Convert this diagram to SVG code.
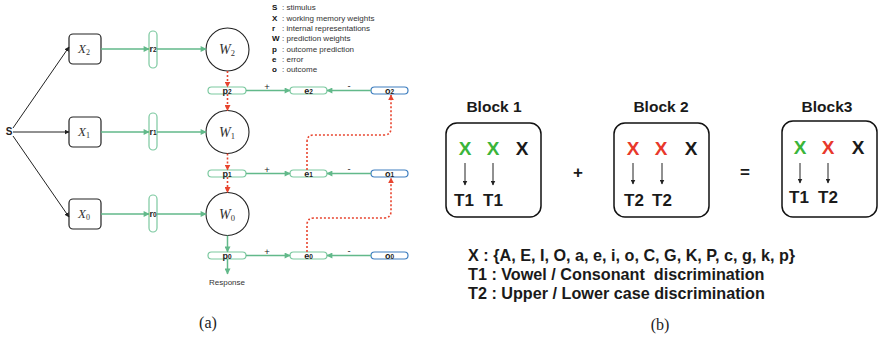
<svg xmlns="http://www.w3.org/2000/svg" width="882" height="339" viewBox="0 0 882 339">
<style>
.bx{fill:#fff;stroke:#222;stroke-width:1.2}
.pill{fill:#fff;stroke:#7cc9a0;stroke-width:1.2}
.opill{fill:#fff;stroke:#3f7fc0;stroke-width:1.2}
.circ{fill:#fff;stroke:#222;stroke-width:1.1}
.g{stroke:#62b98a;stroke-width:1.5;fill:none}
.r{stroke:#e8452f;stroke-width:1.6;fill:none;stroke-dasharray:2 2}
.k{stroke:#222;stroke-width:1;fill:none}
.sans{font-family:"Liberation Sans",Arial,sans-serif}
.ser{font-family:"Liberation Serif","Times New Roman",serif}
.pl{font-family:"Liberation Sans",Arial,sans-serif;font-weight:bold;font-size:9px;fill:#222;text-anchor:middle}
.math{font-family:"Liberation Serif","Times New Roman",serif;font-style:italic;fill:#333;text-anchor:middle}
.leg{font-family:"Liberation Sans",Arial,sans-serif;font-size:8px;fill:#333}
.sign{font-family:"Liberation Sans",Arial,sans-serif;font-size:9.5px;fill:#222;text-anchor:middle}
.big{font-family:"Liberation Sans",Arial,sans-serif;font-weight:bold;text-anchor:middle}
.gx{fill:#3ab53a}
.rx{fill:#e8382b}
.kx{fill:#1a1a1a}
</style>
<defs>
<marker id="ag" viewBox="0 0 10 10" refX="9" refY="5" markerWidth="7" markerHeight="6" markerUnits="userSpaceOnUse" orient="auto"><path d="M0,0 L10,5 L0,10 z" fill="#62b98a"/></marker>
<marker id="ar" viewBox="0 0 10 10" refX="9" refY="5" markerWidth="6" markerHeight="6" markerUnits="userSpaceOnUse" orient="auto"><path d="M0,0 L10,5 L0,10 z" fill="#e8452f"/></marker>
<marker id="ak" viewBox="0 0 10 10" refX="9" refY="5" markerWidth="5" markerHeight="5" markerUnits="userSpaceOnUse" orient="auto"><path d="M0,0 L10,5 L0,10 z" fill="#222"/></marker>
</defs>

<!-- (a) panel -->
<g id="S"><text x="9" y="135" class="pl" style="font-size:10px">S</text></g>

<g id="X2"><rect x="69" y="34" width="32" height="30" rx="4" class="bx"/><text x="84" y="53" class="math" font-size="13">X<tspan font-size="8" font-style="normal" dy="2">2</tspan></text></g>
<g id="X1"><rect x="69" y="117" width="32" height="30" rx="4" class="bx"/><text x="84" y="136" class="math" font-size="13">X<tspan font-size="8" font-style="normal" dy="2">1</tspan></text></g>
<g id="X0"><rect x="69" y="199" width="32" height="30" rx="4" class="bx"/><text x="84" y="218" class="math" font-size="13">X<tspan font-size="8" font-style="normal" dy="2">0</tspan></text></g>

<g id="r2"><rect x="149" y="31" width="8" height="37" rx="4" class="pill"/><text x="153" y="52" class="pl">r<tspan font-size="6.5">2</tspan></text></g>
<g id="r1"><rect x="149" y="113" width="8" height="37" rx="4" class="pill"/><text x="153" y="135" class="pl">r<tspan font-size="6.5">1</tspan></text></g>
<g id="r0"><rect x="149" y="195" width="8" height="37" rx="4" class="pill"/><text x="153" y="217" class="pl">r<tspan font-size="6.5">0</tspan></text></g>

<g id="W2"><circle cx="227.5" cy="49.5" r="21.5" class="circ"/><text x="227" y="54" class="math" font-size="14">W<tspan font-size="8.5" font-style="normal" dy="2">2</tspan></text></g>
<g id="W1"><circle cx="227.5" cy="132" r="21.5" class="circ"/><text x="227" y="136.5" class="math" font-size="14">W<tspan font-size="8.5" font-style="normal" dy="2">1</tspan></text></g>
<g id="W0"><circle cx="227.5" cy="214" r="21.5" class="circ"/><text x="227" y="218.5" class="math" font-size="14">W<tspan font-size="8.5" font-style="normal" dy="2">0</tspan></text></g>

<g id="p2"><rect x="208" y="87" width="38" height="7" rx="3.5" class="pill"/><text x="227" y="93.5" class="pl">p<tspan font-size="6.5">2</tspan></text></g>
<g id="p1"><rect x="208" y="170" width="38" height="7" rx="3.5" class="pill"/><text x="227" y="176.5" class="pl">p<tspan font-size="6.5">1</tspan></text></g>
<g id="p0"><rect x="208" y="252" width="38" height="7" rx="3.5" class="pill"/><text x="227" y="258.5" class="pl">p<tspan font-size="6.5">0</tspan></text></g>

<g id="e2"><rect x="290" y="87" width="37" height="7" rx="3.5" class="pill"/><text x="308.5" y="93.5" class="pl">e<tspan font-size="6.5">2</tspan></text></g>
<g id="e1"><rect x="290" y="170" width="37" height="7" rx="3.5" class="pill"/><text x="308.5" y="176.5" class="pl">e<tspan font-size="6.5">1</tspan></text></g>
<g id="e0"><rect x="290" y="252" width="37" height="7" rx="3.5" class="pill"/><text x="308.5" y="258.5" class="pl">e<tspan font-size="6.5">0</tspan></text></g>

<g id="o2"><rect x="371" y="87" width="37" height="7" rx="3.5" class="opill"/><text x="389.5" y="93.5" class="pl">o<tspan font-size="6.5">2</tspan></text></g>
<g id="o1"><rect x="371" y="170" width="37" height="7" rx="3.5" class="opill"/><text x="389.5" y="176.5" class="pl">o<tspan font-size="6.5">1</tspan></text></g>
<g id="o0"><rect x="371" y="252" width="37" height="7" rx="3.5" class="opill"/><text x="389.5" y="258.5" class="pl">o<tspan font-size="6.5">0</tspan></text></g>

<g id="response"><text x="227" y="285" class="leg" text-anchor="middle">Response</text></g>

<g id="legend" class="leg">
<text x="272" y="10"><tspan font-weight="bold" fill="#111">S</tspan><tspan x="282">: stimulus</tspan></text>
<text x="272" y="20.5"><tspan font-weight="bold" fill="#111">X</tspan><tspan x="282">: working memory weights</tspan></text>
<text x="272" y="31"><tspan font-weight="bold" fill="#111">r</tspan><tspan x="282">: internal representations</tspan></text>
<text x="272" y="41"><tspan font-weight="bold" fill="#111">W</tspan><tspan x="282">: prediction weights</tspan></text>
<text x="272" y="52"><tspan font-weight="bold" fill="#111">p</tspan><tspan x="282">: outcome prediction</tspan></text>
<text x="272" y="62"><tspan font-weight="bold" fill="#111">e</tspan><tspan x="282">: error</tspan></text>
<text x="272" y="72"><tspan font-weight="bold" fill="#111">o</tspan><tspan x="282">: outcome</tspan></text>
</g>

<g id="signs">
<text x="267" y="89.5" class="sign">+</text><text x="349" y="88.5" class="sign">-</text>
<text x="267" y="172.5" class="sign">+</text><text x="349" y="171.5" class="sign">-</text>
<text x="267" y="254.5" class="sign">+</text><text x="349" y="253.5" class="sign">-</text>
</g>

<g id="connectors">
<line x1="13" y1="128" x2="69" y2="47" class="k" marker-end="url(#ak)"/>
<line x1="13" y1="132" x2="69" y2="132" class="k" marker-end="url(#ak)"/>
<line x1="13" y1="136" x2="69" y2="217" class="k" marker-end="url(#ak)"/>

<line x1="101" y1="49" x2="149" y2="49" class="g" marker-end="url(#ag)"/>
<line x1="101" y1="132" x2="149" y2="132" class="g" marker-end="url(#ag)"/>
<line x1="101" y1="214" x2="149" y2="214" class="g" marker-end="url(#ag)"/>
<line x1="157" y1="49" x2="206" y2="49" class="g" marker-end="url(#ag)"/>
<line x1="157" y1="132" x2="206" y2="132" class="g" marker-end="url(#ag)"/>
<line x1="157" y1="214" x2="206" y2="214" class="g" marker-end="url(#ag)"/>

<line x1="227.5" y1="71" x2="227.5" y2="87" class="r" marker-end="url(#ar)"/>
<line x1="227.5" y1="94" x2="227.5" y2="110.5" class="r" marker-end="url(#ar)"/>
<line x1="227.5" y1="153.5" x2="227.5" y2="170" class="r" marker-end="url(#ar)"/>
<line x1="227.5" y1="177" x2="227.5" y2="192.5" class="r" marker-end="url(#ar)"/>
<line x1="227.5" y1="235.5" x2="227.5" y2="252" class="g" marker-end="url(#ag)"/>
<line x1="227.5" y1="259" x2="227.5" y2="274" class="g" marker-end="url(#ag)"/>

<line x1="246" y1="90.5" x2="290" y2="90.5" class="g" marker-end="url(#ag)"/>
<line x1="371" y1="90.5" x2="327" y2="90.5" class="g" marker-end="url(#ag)"/>
<line x1="246" y1="173.5" x2="290" y2="173.5" class="g" marker-end="url(#ag)"/>
<line x1="371" y1="173.5" x2="327" y2="173.5" class="g" marker-end="url(#ag)"/>
<line x1="246" y1="255.5" x2="290" y2="255.5" class="g" marker-end="url(#ag)"/>
<line x1="371" y1="255.5" x2="327" y2="255.5" class="g" marker-end="url(#ag)"/>

<path d="M307,170 L307,142 Q307,135 314,135 L384,135 Q391,135 391,128 L391,95" class="r" marker-end="url(#ar)"/>
<path d="M307,252 L307,225 Q307,218 314,218 L384,218 Q391,218 391,211 L391,178" class="r" marker-end="url(#ar)"/>

<line x1="465" y1="163" x2="465" y2="185" class="k" marker-end="url(#ak)"/>
<line x1="493" y1="163" x2="493" y2="185" class="k" marker-end="url(#ak)"/>
<line x1="633" y1="163" x2="633" y2="184" class="k" marker-end="url(#ak)"/>
<line x1="662" y1="163" x2="662" y2="184" class="k" marker-end="url(#ak)"/>
<line x1="800" y1="163" x2="800" y2="183" class="k" marker-end="url(#ak)"/>
<line x1="828" y1="163" x2="828" y2="183" class="k" marker-end="url(#ak)"/>
</g>

<text x="208" y="328" class="ser" font-size="16" text-anchor="middle" fill="#222">(a)</text>

<!-- (b) panel -->
<g id="block1">
<text x="494" y="111.5" class="big kx" font-size="15.5">Block 1</text>
<rect x="446" y="123" width="95" height="94" rx="11" fill="none" stroke="#111" stroke-width="1.5"/>
<text x="465" y="155" class="big gx" font-size="19">X</text>
<text x="493" y="155" class="big gx" font-size="19">X</text>
<text x="522" y="155" class="big kx" font-size="19">X</text>
<text x="464" y="206" class="big kx" font-size="17">T1</text>
<text x="493" y="206" class="big kx" font-size="17">T1</text>
</g>
<g id="plus"><text x="578" y="178" class="big kx" font-size="17">+</text></g>
<g id="block2">
<text x="661" y="111.5" class="big kx" font-size="15.5">Block 2</text>
<rect x="614" y="123" width="95" height="94" rx="11" fill="none" stroke="#111" stroke-width="1.5"/>
<text x="633" y="155" class="big rx" font-size="19">X</text>
<text x="661" y="155" class="big rx" font-size="19">X</text>
<text x="691" y="155" class="big kx" font-size="19">X</text>
<text x="634" y="205.5" class="big kx" font-size="17">T2</text>
<text x="662" y="205.5" class="big kx" font-size="17">T2</text>
</g>
<g id="equals"><text x="745" y="178" class="big kx" font-size="17">=</text></g>
<g id="block3">
<text x="827" y="111.5" class="big kx" font-size="15.5">Block3</text>
<rect x="782" y="121" width="95" height="96" rx="11" fill="none" stroke="#111" stroke-width="1.5"/>
<text x="800" y="154" class="big gx" font-size="19">X</text>
<text x="828" y="154" class="big rx" font-size="19">X</text>
<text x="858" y="154" class="big kx" font-size="19">X</text>
<text x="799" y="203" class="big kx" font-size="17">T1</text>
<text x="828" y="203" class="big kx" font-size="17">T2</text>
</g>
<g id="key" class="sans" font-weight="bold" font-size="16.2" fill="#1a1a1a">
<text x="468" y="260.5">X : {A, E, I, O, a, e, i, o, C, G, K, P, c, g, k, p}</text>
<text x="468" y="279.5" xml:space="preserve">T1 : Vowel / Consonant  discrimination</text>
<text x="468" y="298.5">T2 : Upper / Lower case discrimination</text>
</g>
<text x="660" y="330" class="ser" font-size="16" text-anchor="middle" fill="#222">(b)</text>
</svg>
